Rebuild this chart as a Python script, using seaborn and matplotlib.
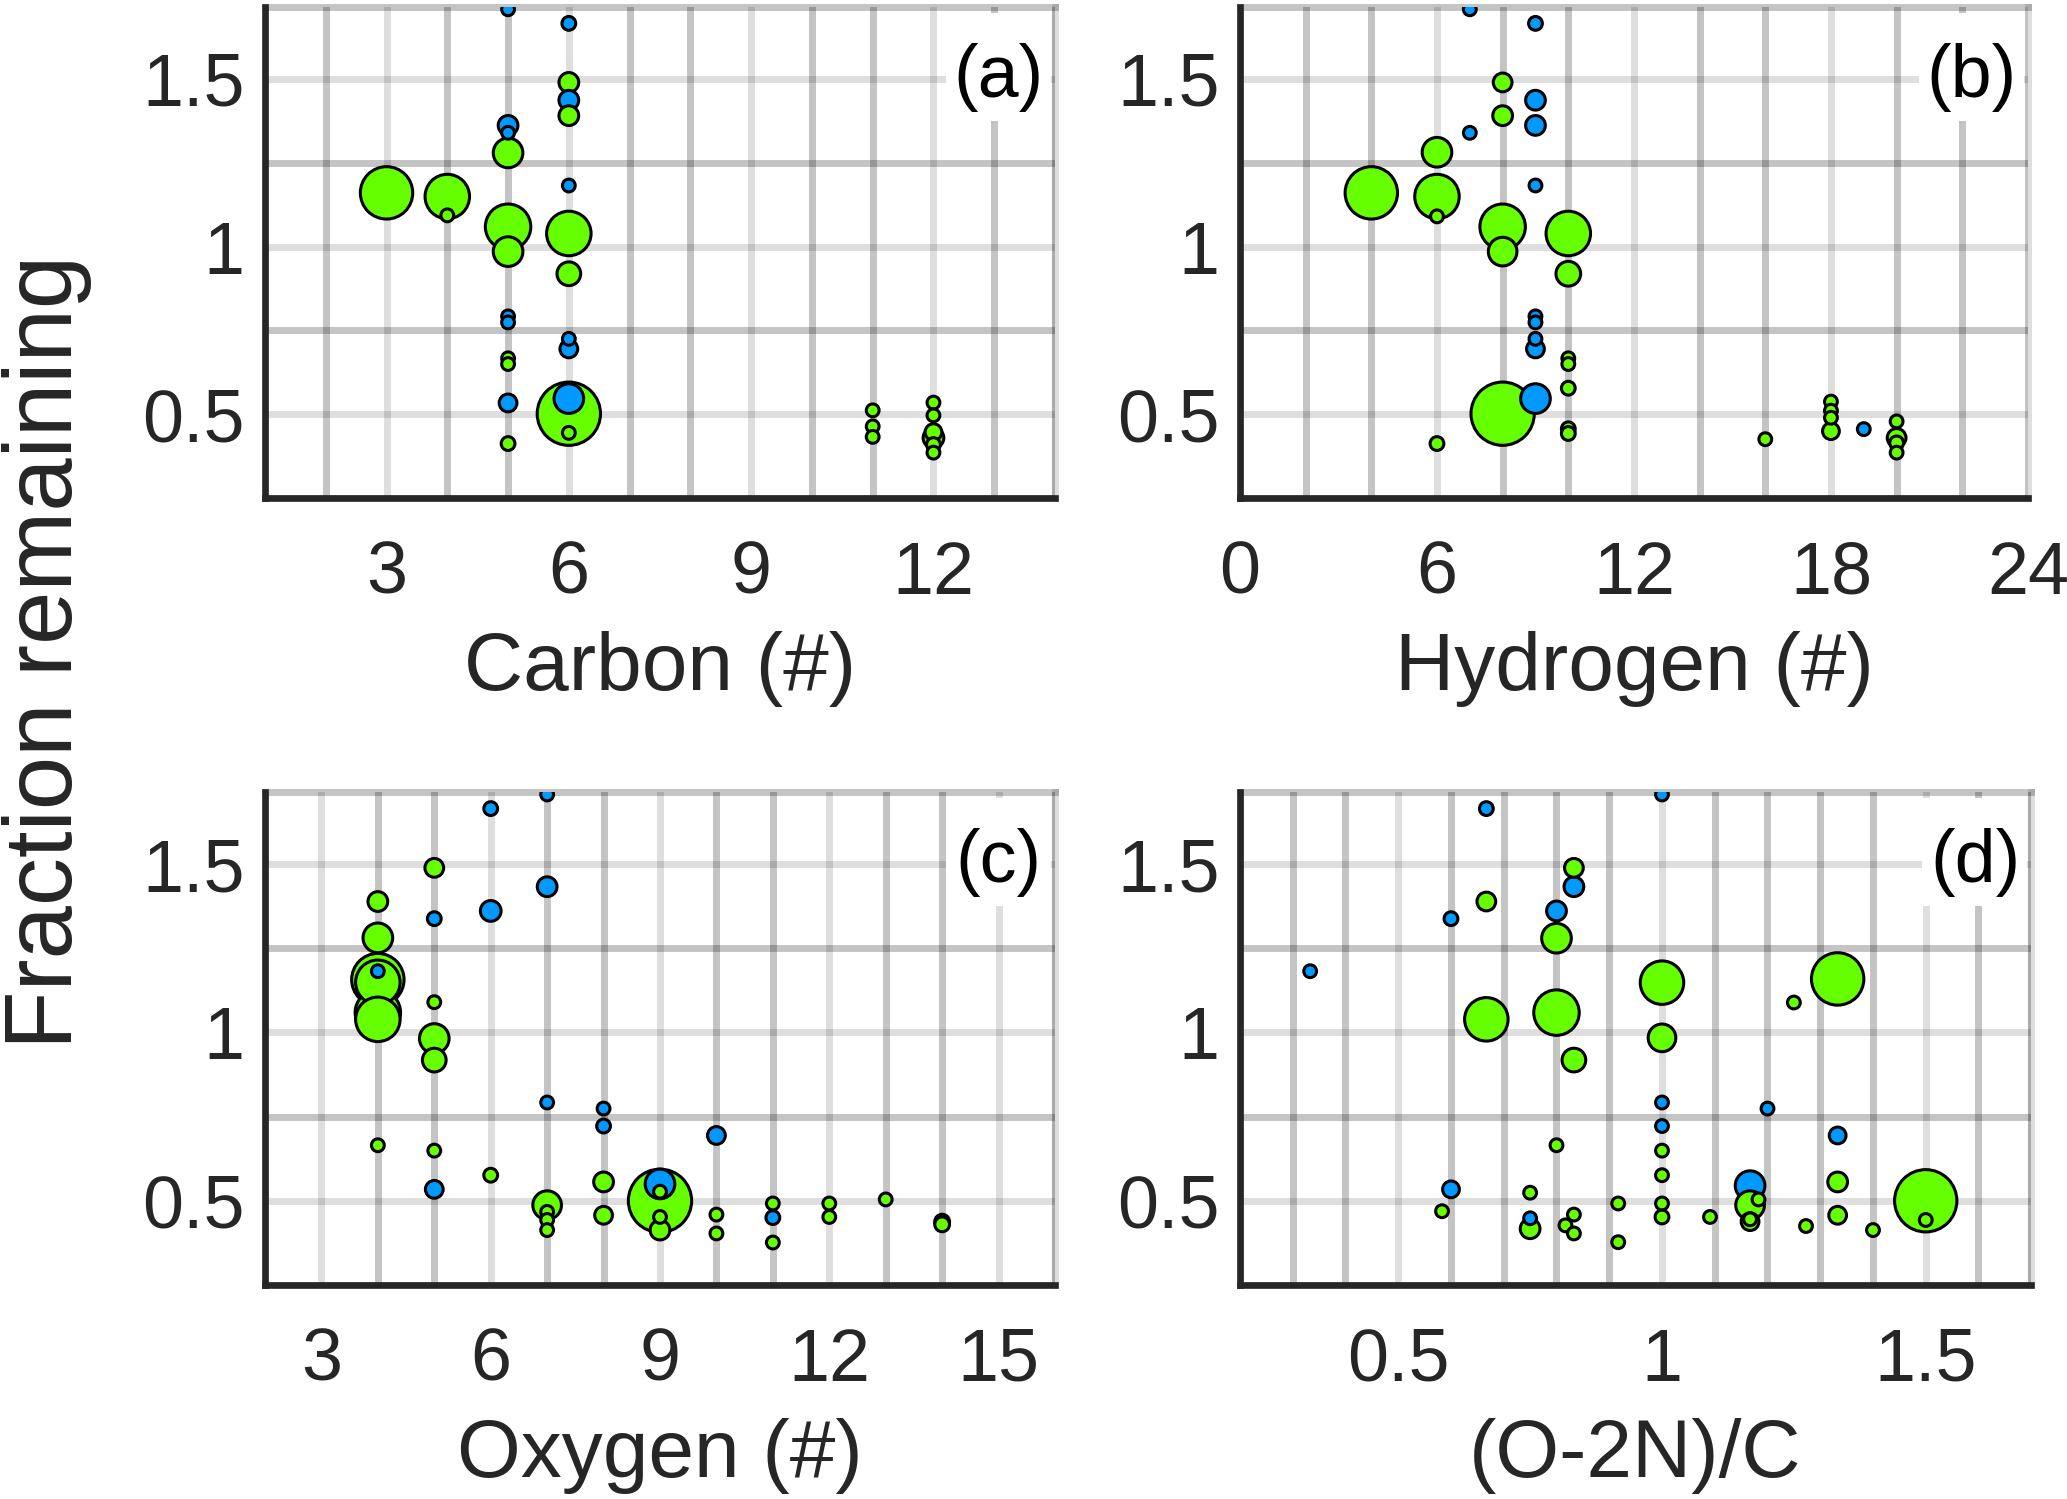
import numpy as np
import pandas as pd
import matplotlib
matplotlib.use("Agg")
import matplotlib.pyplot as plt
import seaborn as sns
from matplotlib.ticker import MultipleLocator, FixedLocator, FuncFormatter
from matplotlib.patches import Rectangle

# ---------------- data ----------------
# Panel (a): carbon number
a_x = [5, 6, 6, 6, 6, 5, 5, 5, 3, 4, 4, 6, 5, 5, 6, 6, 5, 5, 6, 6, 5, 5, 5, 6, 6, 6, 5,
       11, 11, 11, 12, 12, 12, 12, 12, 12]
a_y = [1.707, 1.665, 1.489, 1.436, 1.390, 1.361, 1.339, 1.279, 1.160, 1.149, 1.093, 1.182,
       1.059, 0.985, 1.039, 0.919, 0.792, 0.774, 0.725, 0.695, 0.667, 0.650, 0.534, 0.547,
       0.502, 0.445, 0.413, 0.512, 0.464, 0.433, 0.535, 0.497, 0.447, 0.430, 0.410, 0.386]
a_sz = [16, 17, 23, 23, 23, 23, 16, 33, 56, 48, 16, 16, 49, 33, 48, 27, 16, 16, 16, 21, 16, 16,
        21, 33, 67, 16, 17, 16, 16, 16, 16, 16, 20, 24, 17, 16]
a_grp = ["B", "B", "G", "B", "G", "B", "B", "G", "G", "G", "G", "B", "G", "G", "G", "G", "B",
         "B", "B", "B", "G", "G", "B", "B", "G", "G", "G", "G", "G", "G", "G", "G", "G", "G",
         "G", "G"]

# Panel (b): hydrogen number
b_x = [7, 9, 8, 9, 8, 9, 7, 6, 4, 6, 6, 9, 8, 8, 10, 10, 9, 9, 9, 9, 10, 10, 10, 8, 9, 10, 10,
       6, 16, 18, 18, 18, 18, 19, 20, 20, 20, 20]
b_y = [1.707, 1.665, 1.489, 1.436, 1.390, 1.361, 1.339, 1.281, 1.160, 1.149, 1.090, 1.182,
       1.059, 0.985, 1.039, 0.919, 0.792, 0.774, 0.725, 0.695, 0.667, 0.650, 0.578, 0.502,
       0.547, 0.457, 0.443, 0.413, 0.426, 0.538, 0.511, 0.490, 0.450, 0.456, 0.479, 0.430,
       0.415, 0.386]
b_sz = [16, 17, 22, 23, 23, 23, 16, 33, 56, 48, 16, 16, 49, 32, 48, 28, 16, 16, 16, 21, 16, 16,
        17, 67, 33, 17, 17, 17, 16, 16, 16, 16, 20, 16, 16, 22, 17, 16]
b_grp = ["B", "B", "G", "B", "G", "B", "B", "G", "G", "G", "G", "B", "G", "G", "G", "G", "B",
         "B", "B", "B", "G", "G", "G", "G", "B", "G", "G", "G", "G", "G", "G", "G", "G", "B",
         "G", "G", "G", "G"]

# Panel (c): oxygen number
c_x = [7, 6, 5, 7, 4, 6, 5, 4, 4, 4, 4, 4, 4, 5, 5, 5, 7, 8, 8, 10, 4, 5, 6, 5, 8, 9, 9, 9,
       7, 7, 7, 7, 8, 9, 9, 10, 10, 11, 11, 11, 12, 12, 13, 14, 14]
c_y = [1.707, 1.665, 1.489, 1.433, 1.389, 1.361, 1.338, 1.281, 1.157, 1.149, 1.182, 1.059,
       1.039, 1.090, 0.982, 0.918, 0.792, 0.774, 0.722, 0.694, 0.665, 0.649, 0.576, 0.534,
       0.556, 0.550, 0.500, 0.527, 0.487, 0.467, 0.443, 0.413, 0.457, 0.452, 0.413, 0.459,
       0.403, 0.492, 0.450, 0.376, 0.492, 0.452, 0.504, 0.438, 0.430]
c_sz = [16, 17, 22, 23, 23, 24, 17, 33, 56, 48, 16, 49, 48, 16, 33, 27, 16, 16, 17, 21, 16, 16,
        17, 21, 23, 33, 67, 16, 32, 16, 16, 16, 21, 16, 23, 16, 16, 16, 17, 16, 16, 16, 16, 18, 18]
c_grp = ["B", "B", "G", "B", "G", "B", "B", "G", "G", "G", "B", "G", "G", "G", "G", "G", "B",
         "B", "B", "B", "G", "G", "G", "B", "G", "B", "G", "G", "G", "G", "G", "G", "G", "G",
         "G", "G", "G", "G", "B", "G", "G", "G", "G", "G", "G"]

# Panel (d): (O-2N)/C
d_x = [1.0, 0.667, 0.833, 0.833, 0.667, 0.8, 0.6, 0.8, 0.333, 1.333, 1.0, 1.25, 0.667, 0.8,
       1.0, 0.833, 1.0, 1.2, 1.0, 1.333, 0.8, 1.0, 1.0, 0.6, 0.75, 1.167, 1.167, 1.183, 1.167,
       1.167, 1.333, 1.333, 1.5, 1.5, 0.583, 0.75, 0.75, 0.833, 0.817, 0.833, 0.917, 0.917,
       1.0, 1.0, 1.091, 1.273, 1.4]
d_y = [1.707, 1.665, 1.489, 1.433, 1.389, 1.361, 1.338, 1.280, 1.182, 1.159, 1.148, 1.089,
       1.039, 1.059, 0.984, 0.918, 0.792, 0.774, 0.722, 0.694, 0.665, 0.649, 0.576, 0.534,
       0.524, 0.545, 0.487, 0.504, 0.445, 0.438, 0.556, 0.457, 0.500, 0.443, 0.469, 0.448,
       0.417, 0.459, 0.427, 0.403, 0.492, 0.377, 0.492, 0.452, 0.452, 0.425, 0.413]
d_sz = [16, 17, 22, 23, 22, 23, 17, 33, 16, 56, 47, 16, 47, 49, 31, 27, 16, 16, 16, 20, 16, 16,
        16, 20, 16, 33, 32, 16, 16, 21, 23, 21, 66, 16, 16, 16, 23, 16, 16, 16, 16, 16, 16, 17,
        16, 16, 16]
d_grp = ["B", "B", "G", "B", "G", "B", "B", "G", "B", "G", "G", "G", "G", "G", "G", "G", "B",
         "B", "B", "B", "G", "G", "G", "B", "G", "B", "G", "G", "G", "G", "G", "G", "G", "G",
         "G", "B", "G", "G", "G", "G", "G", "G", "G", "G", "G", "G", "G"]

x_labels = ["Carbon (#)", "Hydrogen (#)", "Oxygen (#)", "(O-2N)/C"]
panel_tags = ["(a)", "(b)", "(c)", "(d)"]
y_ticks = [0.5, 1.0, 1.5]

# ---------------- styling ----------------
sns.set_theme(style="white")
plt.rcParams["font.family"] = ["Liberation Sans", "DejaVu Sans"]

DPI = 100
PX = 72.0 / DPI          # points per pixel
EDGE_LW = 2.2            # marker edge width, pt
INK = "#262626"
palette = {"G": "#66ff00", "B": "#0099ff"}

fig = plt.figure(figsize=(20.67, 14.99), dpi=DPI)

panels = [
    dict(pos=[0.1282, 0.6676, 0.3822, 0.3280], x=a_x, y=a_y, s=a_sz, g=a_grp,
         xlim=(1, 14), major=[3, 6, 9, 12], minor=1),
    dict(pos=[0.5999, 0.6676, 0.3812, 0.3280], x=b_x, y=b_y, s=b_sz, g=b_grp,
         xlim=(0, 24), major=[0, 6, 12, 18, 24], minor=2),
    dict(pos=[0.1282, 0.1428, 0.3822, 0.3290], x=c_x, y=c_y, s=c_sz, g=c_grp,
         xlim=(2, 16), major=[3, 6, 9, 12, 15], minor=1),
    dict(pos=[0.5999, 0.1428, 0.3828, 0.3290], x=d_x, y=d_y, s=d_sz, g=d_grp,
         xlim=(0.2, 1.7), major=[0.5, 1.0, 1.5], minor=0.1),
]

fmt = FuncFormatter(lambda v, p: f"{v:g}")

for i, P in enumerate(panels):
    ax = fig.add_axes(P["pos"])
    df = pd.DataFrame({"x": P["x"], "y": P["y"], "d": P["s"], "grp": P["g"]})
    df = df.sort_values("d", ascending=False, kind="stable").reset_index(drop=True)
    sizes = ((df["d"] * 0.99 * PX) - EDGE_LW) ** 2
    sns.scatterplot(data=df, x="x", y="y", hue="grp", palette=palette, s=sizes.values,
                    edgecolor="black", linewidth=EDGE_LW, legend=False, ax=ax, zorder=3)

    ax.set_xlim(*P["xlim"])
    ax.set_ylim(0.25, 1.715)
    ax.xaxis.set_major_locator(FixedLocator(P["major"]))
    ax.xaxis.set_minor_locator(MultipleLocator(P["minor"]))
    ax.yaxis.set_major_locator(FixedLocator(y_ticks))
    ax.yaxis.set_minor_locator(MultipleLocator(0.25))
    ax.xaxis.set_major_formatter(fmt)
    ax.yaxis.set_major_formatter(fmt)

    ax.set_axisbelow(True)
    ax.grid(True, which="major", color="black", alpha=0.13, linewidth=5)
    ax.grid(True, which="minor", color="black", alpha=0.23, linewidth=5)

    ax.tick_params(axis="both", which="major", direction="in", length=8, width=4.8,
                   color=INK, labelcolor=INK, labelsize=53)
    ax.tick_params(axis="x", which="major", pad=30)
    ax.tick_params(axis="y", which="major", pad=14.5)
    ax.tick_params(axis="both", which="minor", length=0)

    for side in ["left", "bottom"]:
        ax.spines[side].set_color(INK)
        ax.spines[side].set_linewidth(4.8)
        ax.spines[side].set_zorder(4)
    ax.spines["top"].set_color((0, 0, 0, 0.23))
    ax.spines["top"].set_linewidth(5)
    ax.spines["right"].set_color((0, 0, 0, 0.13))
    ax.spines["right"].set_linewidth(5)

    ax.set_xlabel(x_labels[i], fontsize=59, color=INK, labelpad=16)
    ax.set_ylabel("")

    ax.add_patch(Rectangle((0.862, 0.768), 0.133, 0.219, transform=ax.transAxes,
                           facecolor="white", edgecolor="none", zorder=1.5))
    ax.text(0.929, 0.856, panel_tags[i], transform=ax.transAxes, ha="center",
            va="center", fontsize=53, color="black", zorder=5)

fig.text(0.0225, 0.565, "Fraction remaining", rotation=90, ha="center", va="center",
         fontsize=69, color=INK)

fig.savefig("out.png", dpi=DPI)
